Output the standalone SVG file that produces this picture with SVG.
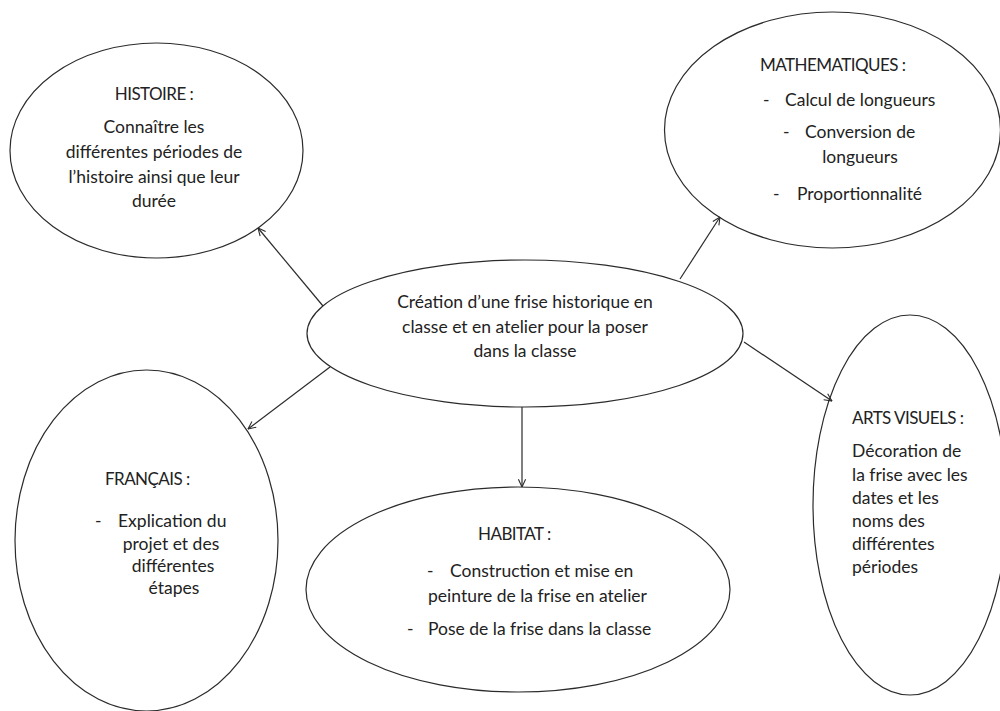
<svg xmlns="http://www.w3.org/2000/svg" width="1000" height="711" viewBox="0 0 1000 711">
<defs>
<style>
.node ellipse{fill:#fff;stroke:#2b2b2b;stroke-width:1.2}
text{font-family:Lato,"Liberation Sans",sans-serif;font-size:17.5px;fill:#222}
.h{font-size:17px;letter-spacing:-0.55px}
.c{text-anchor:middle}
.conn line{stroke:#2b2b2b;stroke-width:1.2;marker-end:url(#arr)}
</style>
<marker id="arr" viewBox="0 0 10 10" refX="9.5" refY="5" markerWidth="9" markerHeight="9" markerUnits="userSpaceOnUse" orient="auto">
<path d="M1,1 L9.5,5 L1,9" fill="none" stroke="#2b2b2b" stroke-width="1.2"/>
</marker>
</defs>
<rect width="1000" height="711" fill="#fff"/>
<g id="center" class="node">
<ellipse cx="525" cy="333.5" rx="218" ry="73.5"/>
<text class="c" x="525" y="308">Création d’une frise historique en</text>
<text class="c" x="525" y="333">classe et en atelier pour la poser</text>
<text class="c" x="525" y="357">dans la classe</text>
</g>
<g id="histoire" class="node">
<ellipse cx="156.5" cy="150.5" rx="146.5" ry="107.5"/>
<text class="c h" x="154" y="100">HISTOIRE :</text>
<text class="c" x="154" y="133">Connaître les</text>
<text class="c" x="154" y="158">différentes périodes de</text>
<text class="c" x="154" y="183">l’histoire ainsi que leur</text>
<text class="c" x="154" y="207">durée</text>
</g>
<g id="maths" class="node">
<ellipse cx="832.5" cy="130" rx="168" ry="118"/>
<text class="h" x="760" y="71">MATHEMATIQUES :</text>
<text x="763" y="106">-</text>
<text x="785" y="106">Calcul de longueurs</text>
<text x="783" y="138">-</text>
<text x="805" y="138">Conversion de</text>
<text class="c" x="860" y="163">longueurs</text>
<text x="773" y="200">-</text>
<text x="797" y="200">Proportionnalité</text>
</g>
<g id="francais" class="node">
<ellipse cx="146.5" cy="540.5" rx="131.5" ry="170.5"/>
<text class="h" x="105" y="485">FRANÇAIS :</text>
<text x="95" y="527">-</text>
<text x="118" y="527">Explication du</text>
<text class="c" x="171" y="550">projet et des</text>
<text class="c" x="173" y="572">différentes</text>
<text class="c" x="174" y="594">étapes</text>
</g>
<g id="habitat" class="node">
<ellipse cx="518" cy="589.5" rx="212" ry="102.5"/>
<text class="h" x="478" y="540">HABITAT :</text>
<text x="427" y="577">-</text>
<text x="450" y="577">Construction et mise en</text>
<text x="428" y="602">peinture de la frise en atelier</text>
<text x="407" y="635">-</text>
<text x="428" y="635">Pose de la frise dans la classe</text>
</g>
<g id="arts" class="node">
<ellipse cx="910" cy="505" rx="97" ry="190"/>
<text class="h" x="852" y="424">ARTS VISUELS :</text>
<text x="852" y="457">Décoration de</text>
<text x="852" y="481">la frise avec les</text>
<text x="852" y="504">dates et les</text>
<text x="852" y="527">noms des</text>
<text x="852" y="550">différentes</text>
<text x="852" y="573">périodes</text>
</g>
<g id="connectors" class="conn">
<line x1="323" y1="306" x2="258" y2="228"/>
<line x1="680" y1="279" x2="720" y2="217"/>
<line x1="330" y1="367" x2="248" y2="429"/>
<line x1="522" y1="407" x2="522" y2="487"/>
<line x1="744" y1="342" x2="832" y2="401"/>
</g>
</svg>
